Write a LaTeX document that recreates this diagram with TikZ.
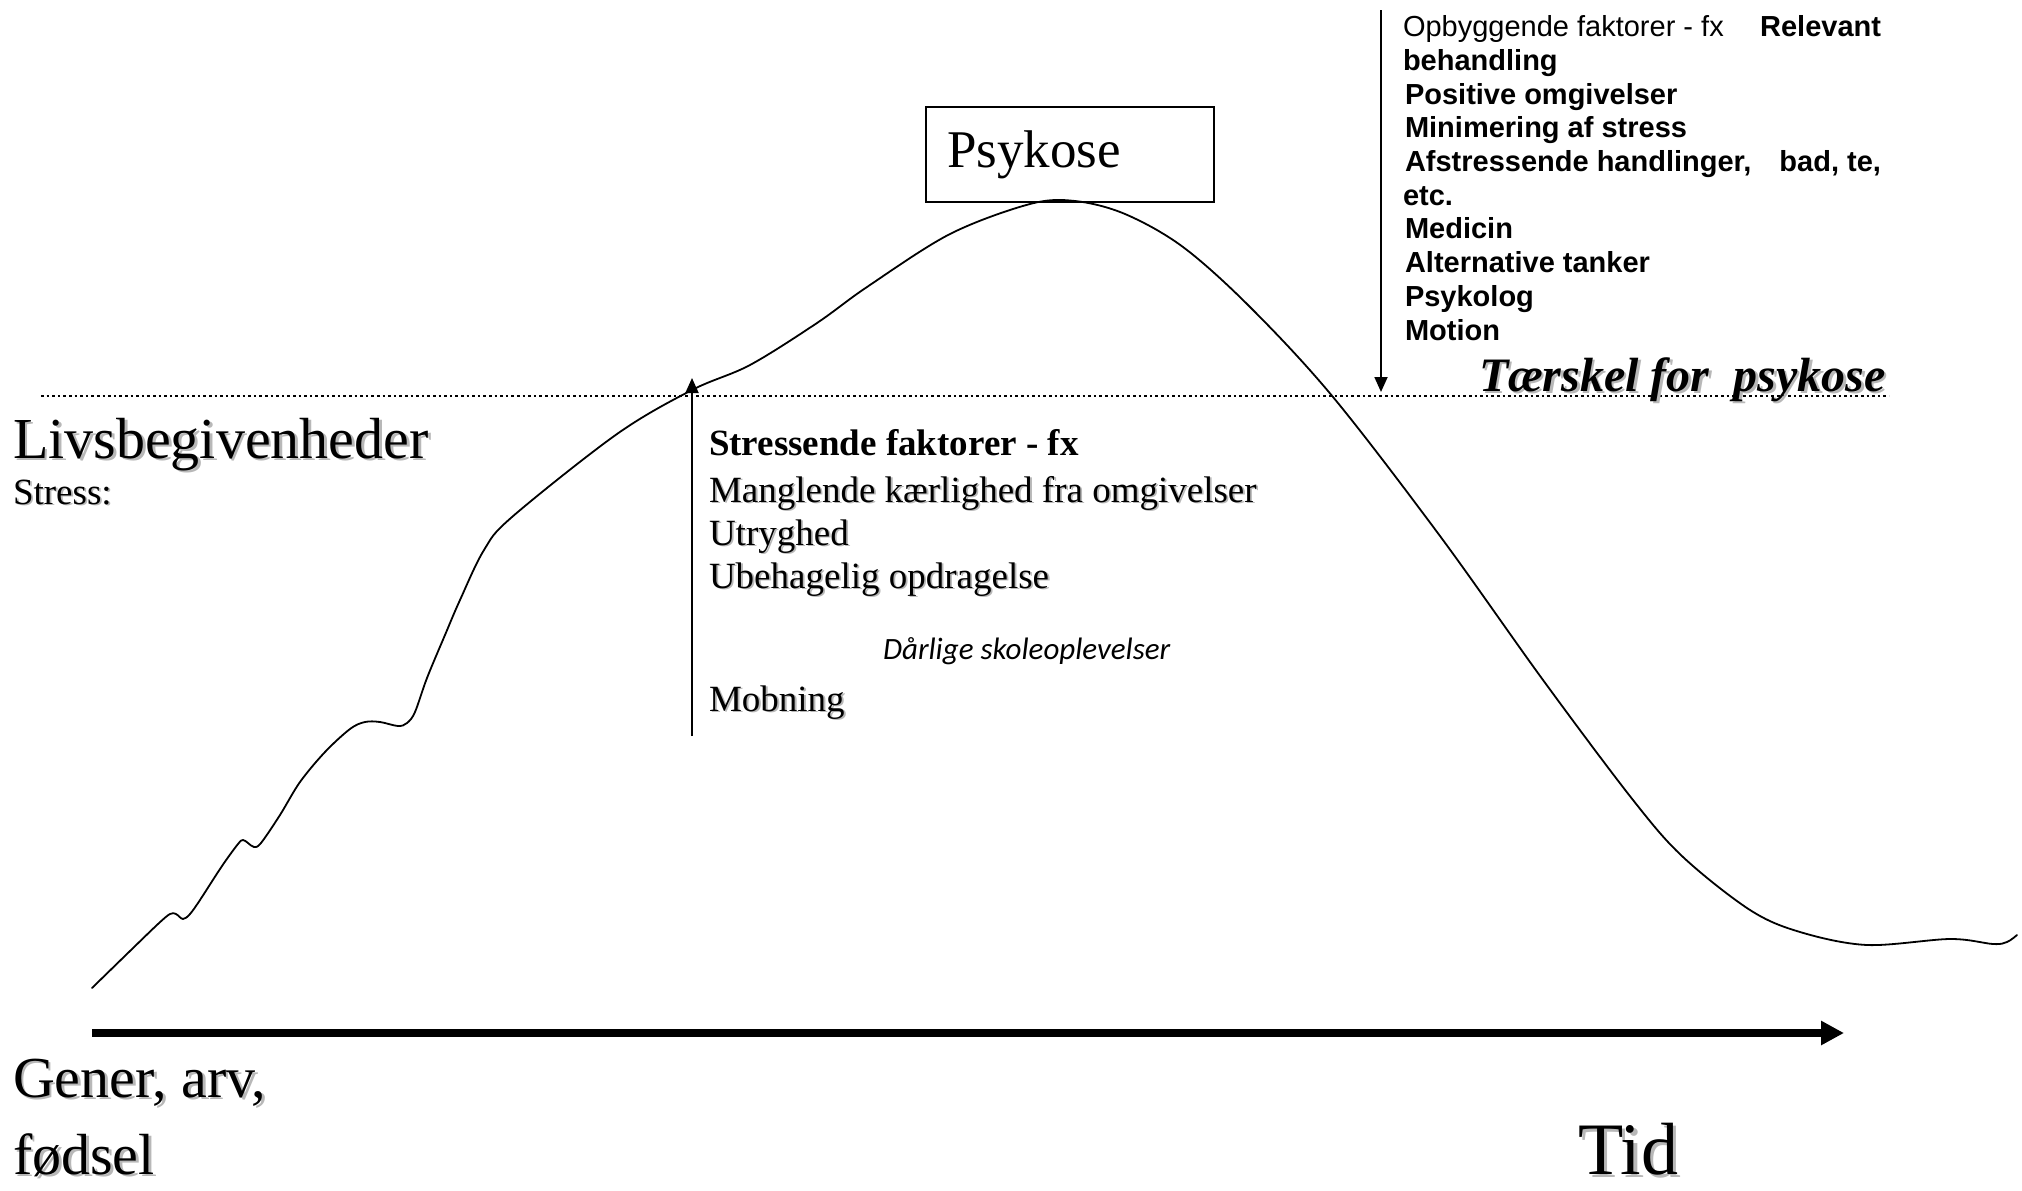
\documentclass[tikz,border=0pt]{standalone}
\usepackage{fontspec}
\setmainfont{Liberation Serif}
\newfontfamily\arialf{Liberation Sans}
\newfontfamily\calibrif{Carlito}
\usetikzlibrary{arrows.meta}
\definecolor{shadowgray}{gray}{0.72}
\newcommand{\shd}[1]{\makebox[0pt][l]{\hspace*{0.05em}\raisebox{-0.05em}{\color{shadowgray}#1}}#1}
\begin{document}
\begin{tikzpicture}[x=1pt,y=-1pt,
  txt/.style={anchor=base west, inner sep=0pt, outer sep=0pt},
  big/.style={txt, font=\fontsize{58}{70}\selectfont},
  mid/.style={txt, font=\fontsize{37}{44}\selectfont},
  ar/.style={txt, font=\arialf\bfseries\fontsize{29}{34}\selectfont},
  curveline/.style={line width=1.8pt, line join=round, line cap=round},
  thinarrow/.style={line width=1.8pt, -{Triangle[length=15pt,width=13pt]}},
  dotline/.style={line width=2.6pt, dash pattern=on 2.6pt off 3pt},
  timearrow/.style={line width=8pt, -{Triangle[length=23pt,width=23pt]}},
  psybox/.style={draw, line width=2pt, anchor=north west, minimum width=288pt, minimum height=95pt,
    inner xsep=21pt, text width=246pt, align=left, font=\fontsize{53}{60}\selectfont}
]
\useasboundingbox (0,0) rectangle (2022,1191);

% threshold line
\coordinate (tl) at (41,396);
\coordinate (tr) at (1889,396);
\draw[dotline] (tl) -- (tr);

% curve
\draw[curveline] plot[smooth, tension=0.55] coordinates {
(92,988) (130,951) (158,924) (170,914) (176,914) (183,919) (190,914) (200,900)
(222,866) (238,844) (243,840) (248,843) (254,847) (261,843) (280,815) (300,782)
(325,752) (350,729) (365,722) (380,722) (398,726) (407,723) (415,712) (427,678)
(445,635) (460,600) (484,550) (512,517) (617,434)
(692,390) (750,365) (817,323) (867,287) (950,234) (1030,204) (1075,201)
(1125,214) (1183,247) (1250,307) (1333,397) (1440,536) (1543,680) (1633,800) (1683,857)
(1750,910) (1800,932) (1867,945) (1950,939) (1993,944) (2007,942) (2017,935)};

% Psykose box
\node[psybox] (psy) at (925,106) {Psykose};

% arrows
\coordinate (upS) at (692,736);
\coordinate (upE) at (692,378);
\draw[thinarrow] (upS) -- (upE);
\coordinate (dnS) at (1381,10);
\coordinate (dnE) at (1381,392);
\draw[thinarrow] (dnS) -- (dnE);
\coordinate (tS) at (92,1033);
\coordinate (tE) at (1844,1033);
\draw[timearrow] (tS) -- (tE);

% left labels
\node[big] (livs) at (13,458) {\shd{Livsbegivenheder}};
\node[mid] (stress) at (13,504) {\shd{Stress:}};
\node[big] (gener) at (13,1097) {\shd{Gener, arv,}};
\node[big] (fodsel) at (13,1174) {\shd{fødsel}};
\node[txt, font=\fontsize{74}{80}\selectfont] (tid) at (1578,1174) {\shd{Tid}};

% stress factors
\node[mid, font=\bfseries\fontsize{37}{44}\selectfont] (sf) at (709,455) {Stressende faktorer - fx};
\node[mid] (s1) at (709,502) {\shd{Manglende kærlighed fra omgivelser}};
\node[mid] (s2) at (709,545) {\shd{Utryghed}};
\node[mid] (s3) at (709,588) {\shd{Ubehagelig opdragelse}};
\node[txt, font=\calibrif\itshape\fontsize{31}{36}\selectfont] (s4) at (883,659) {Dårlige skoleoplevelser};
\node[mid] (s5) at (709,711) {\shd{Mobning}};

% building factors
\node[ar] (o1) at (1403,36) {\makebox[478pt][l]{\mdseries Opbyggende faktorer - fx\hfill\bfseries Relevant}};
\node[ar] (o2) at (1403,70) {behandling};
\node[ar] (o3) at (1405,104) {Positive omgivelser};
\node[ar] (o4) at (1405,137) {Minimering af stress};
\node[ar] (o5) at (1405,171) {\makebox[476pt][l]{Afstressende handlinger,\hfill bad, te,}};
\node[ar] (o6) at (1403,205) {etc.};
\node[ar] (o7) at (1405,238) {Medicin};
\node[ar] (o8) at (1405,272) {Alternative tanker};
\node[ar] (o9) at (1405,306) {Psykolog};
\node[ar] (o10) at (1405,340) {Motion};

% threshold label
\node[txt, font=\bfseries\itshape\fontsize{48}{54}\selectfont] (thr) at (1479,391) {\shd{Tærskel for\ \ psykose}};
\end{tikzpicture}
\end{document}
